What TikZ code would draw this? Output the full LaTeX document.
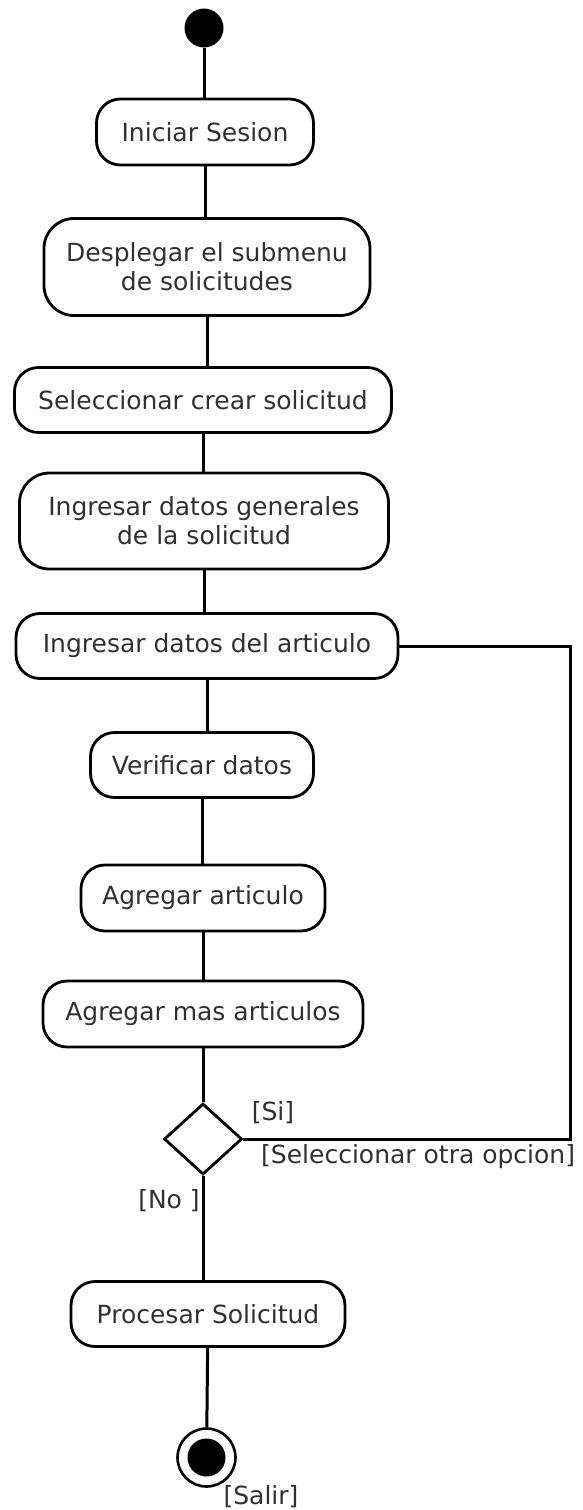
\documentclass[tikz,border=0pt]{standalone}
\usepackage{fontspec}
\setmainfont{DejaVu Sans}
\usepackage{xcolor,tikz}
\usetikzlibrary{positioning,shapes.geometric}
\definecolor{actLine}{HTML}{000000}
\definecolor{actText}{HTML}{303030}
\tikzset{
  activity/.style={
    rectangle, rounded corners=24pt,
    draw=actLine, line width=2.8pt,
    inner sep=0pt,
    align=center,
    text=actText,
    font=\fontsize{25}{29}\selectfont,
  },
  guard/.style={
    inner sep=0pt, text=actText,
    font=\fontsize{25}{29}\selectfont,
  },
  decision/.style={
    diamond, draw=actLine, line width=2.8pt,
    inner sep=0pt, minimum width=78pt, minimum height=71pt,
  },
  flow/.style={draw=actLine, line width=3pt},
}

\begin{document}
\begin{tikzpicture}[x=1pt, y=-1pt]
\useasboundingbox (0, 0) rectangle (582, 1510);

% Inicio
\node[circle, fill=actLine, inner sep=0pt, minimum size=39pt] (ini) at (204, 28) {};

% Actividades
\node[activity, minimum width=217pt, minimum height=66pt] (iniciar) at (205, 132) {Iniciar Sesion};
\node[activity, minimum width=326pt, minimum height=97pt, rounded corners=30pt] (despl) at (207, 267)
  {Desplegar el submenu\\de solicitudes};
\node[activity, minimum width=377pt, minimum height=65pt] (selec) at (203, 400) {Seleccionar crear solicitud};
\node[activity, minimum width=369pt, minimum height=96pt, rounded corners=30pt] (generales) at (204, 521)
  {Ingresar datos generales\\de la solicitud};
\node[activity, minimum width=382pt, minimum height=65pt] (artic) at (207, 646) {Ingresar datos del articulo};
\node[activity, minimum width=223pt, minimum height=65pt] (verif) at (202, 765) {Verificar datos};
\node[activity, minimum width=244pt, minimum height=66pt] (agregar) at (203, 898) {Agregar articulo};
\node[activity, minimum width=320pt, minimum height=66pt] (mas) at (203, 1014) {Agregar mas articulos};

% Decision
\node[decision] (dec) at (203, 1139) {};
\node[activity, minimum width=274pt, minimum height=65pt] (procesar) at (208, 1314) {Procesar Solicitud};

% Fin
\node[circle, draw=actLine, line width=2.6pt, inner sep=0pt, minimum size=58pt] (fin) at (206.5, 1457.5) {};
\node[circle, fill=actLine, inner sep=0pt, minimum size=38pt] (finpunto) at (fin.center) {};

% Guardas
\node[guard] (si) at (273, 1113) {[Si]};
\node[guard, anchor=west] (otra) at (261, 1157) {[Seleccionar otra opcion]};
\node[guard] (no) at (169, 1201) {[No ]};
\node[guard] (salir) at (261, 1497) {[Salir]};

% Flujos
\coordinate (retorno) at (570, 0);
\draw[flow] (ini) -- (ini |- iniciar.north);
\draw[flow] (iniciar) -- (iniciar |- despl.north);
\draw[flow] (despl) -- (despl |- selec.north);
\draw[flow] (selec) -- (selec |- generales.north);
\draw[flow] (generales) -- (generales |- artic.north);
\draw[flow] (artic) -- (artic |- verif.north);
\draw[flow] (verif) -- (verif |- agregar.north);
\draw[flow] (agregar) -- (agregar |- mas.north);
\draw[flow] (mas) -- (dec.north);
\draw[flow] (artic.east) -| (retorno |- dec.east) -- (dec.east);
\draw[flow] (dec.south) -- (dec.south |- procesar.north);
\draw[flow] (procesar) -- (fin);

\end{tikzpicture}
\end{document}
